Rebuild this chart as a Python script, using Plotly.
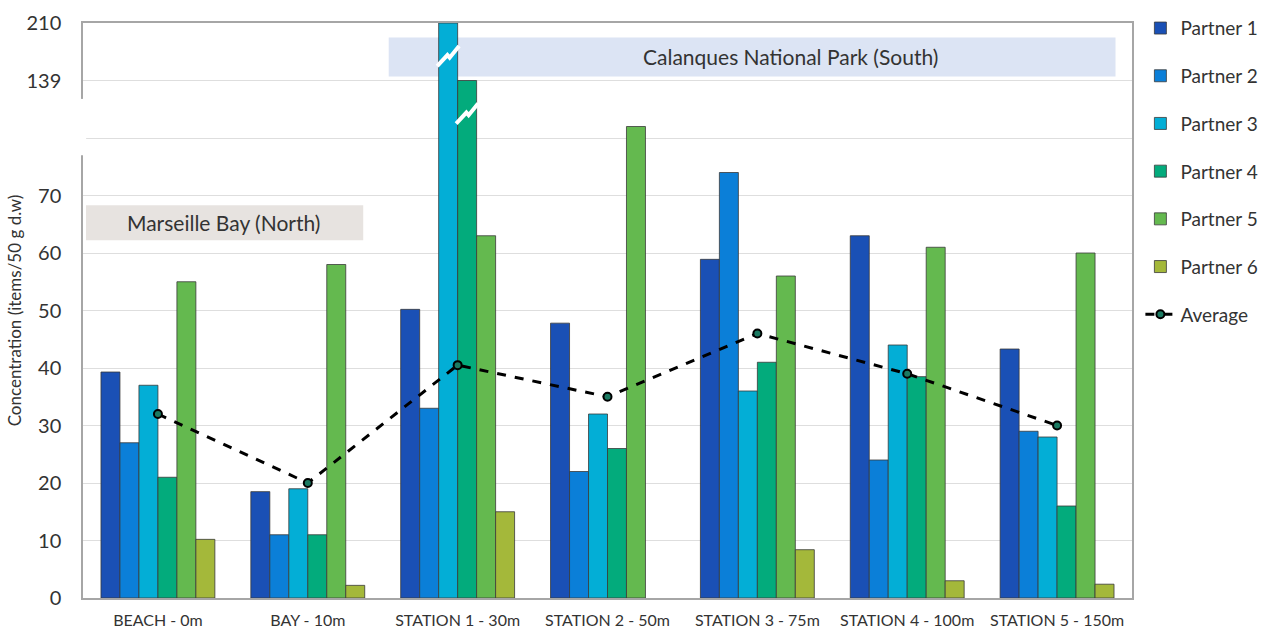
import numpy as np
import plotly.graph_objects as go

# ---- data (real values; the two tallest bars sit above an axis break) ----
stations = ["BEACH - 0m", "BAY - 10m", "STATION 1 - 30m", "STATION 2 - 50m",
            "STATION 3 - 75m", "STATION 4 - 100m", "STATION 5 - 150m"]
partner1 = [39.3, 18.5, 50.2, 47.8, 58.9, 63.0, 43.3]
partner2 = [27.0, 11.0, 33.0, 22.0, 74.0, 24.0, 29.0]
partner3 = [37.0, 19.0, 210.0, 32.0, 36.0, 44.0, 28.0]
partner4 = [21.0, 11.0, 139.0, 26.0, 41.0, 38.5, 16.0]
partner5 = [55.0, 58.0, 63.0, 82.0, 56.0, 61.0, 60.0]
partner6 = [10.2, 2.2, 15.0, None, 8.4, 3.0, 2.4]
average = [32.0, 20.0, 40.5, 35.0, 46.0, 39.0, 30.0]

series_names = ["Partner 1", "Partner 2", "Partner 3", "Partner 4", "Partner 5", "Partner 6"]
series_vals = [partner1, partner2, partner3, partner4, partner5, partner6]
colors = ["#1a50b5", "#0b7fd8", "#03aed6", "#03ab7c", "#64b94f", "#a4b83a"]

# broken axis: real value -> drawn position
real_breaks = [0, 85, 139, 210]
draw_breaks = [0, 85, 90, 100]
def to_axis(v):
    return [None if x is None else float(np.interp(x, real_breaks, draw_breaks)) for x in v]

ytick_vals = [0, 10, 20, 30, 40, 50, 60, 70, 80, 90, 100]
ytick_text = ["0", "10", "20", "30", "40", "50", "60", "70", "", "139", "210"]

FONT = "Lato"
bargap = 0.24
xs = list(range(len(stations)))

fig = go.Figure()
for name, vals, col in zip(series_names, series_vals, colors):
    fig.add_trace(go.Bar(
        x=xs, y=to_axis(vals), name=name, legendgroup=name,
        marker=dict(color=col, line=dict(color="#3a3a3a", width=0.8)),
        customdata=vals, hovertemplate="%{customdata}<extra>" + name + "</extra>",
    ))

fig.add_trace(go.Scatter(
    x=xs, y=to_axis(average), name="Average", legendgroup="Average",
    mode="lines+markers",
    line=dict(color="black", width=3, dash="dash"),
    marker=dict(size=8, color="#1b7a62", line=dict(color="black", width=2)),
))

# ---- break marks on bars exceeding the break ----
w = (1 - bargap) / len(series_names)
shapes = []
for k, vals in enumerate(series_vals):
    for i, v in enumerate(vals):
        if v is not None and v > real_breaks[1]:
            c = i + (k - (len(series_names) - 1) / 2) * w
            L, R = c - w / 2 - 0.01, c + w / 2 + 0.01
            top = to_axis([v])[0]
            b = top - 7.5
            h = 3.5
            mid = c
            shapes.append(dict(
                type="path", xref="x", yref="y", layer="above",
                path=f"M {L},{b} L {mid-0.005},{b+h*0.55} L {mid+0.01},{b+h*0.42} L {R},{b+h}",
                line=dict(color="white", width=4),
            ))

# region boxes
shapes.append(dict(type="rect", xref="x", yref="y", layer="between",
                   x0=-0.48, x1=1.37, y0=62.2, y1=68.3,
                   fillcolor="#e7e3e0", line=dict(width=0)))
shapes.append(dict(type="rect", xref="x", yref="y", layer="between",
                   x0=1.54, x1=6.39, y0=90.7, y1=97.5,
                   fillcolor="#dce4f4", line=dict(width=0)))
# gap in the left axis line (axis break)
shapes.append(dict(type="rect", xref="paper", yref="y", layer="above",
                   x0=-0.004, x1=0.003, y0=77.0, y1=86.8,
                   fillcolor="white", line=dict(width=0)))

annotations = [
    dict(x=0.44, y=65.25, xref="x", yref="y", text="Marseille Bay (North)",
         showarrow=False, font=dict(family=FONT, size=21, color="#333333")),
    dict(x=4.22, y=94.1, xref="x", yref="y", text="Calanques National Park (South)",
         showarrow=False, font=dict(family=FONT, size=21, color="#333333")),
]

fig.update_layout(
    width=1266, height=629,
    margin=dict(l=83, r=134, t=23, b=31, autoexpand=False),
    paper_bgcolor="white", plot_bgcolor="white",
    barmode="group", bargap=bargap, bargroupgap=0,
    font=dict(family=FONT, color="#333333"),
    shapes=shapes, annotations=annotations,
    legend=dict(x=1.008, y=1.024, xanchor="left", yanchor="top",
                font=dict(family=FONT, size=19, color="#333333"),
                tracegroupgap=20, itemwidth=30, bgcolor="rgba(0,0,0,0)",
                maxheight=600),
    showlegend=True,
)
fig.update_xaxes(
    range=[-0.5, len(stations) - 0.5], tickvals=xs, ticktext=stations,
    tickfont=dict(family=FONT, size=16, color="#333333"),
    showline=True, linecolor="#a6a6a6", linewidth=1.5, mirror=True,
    showgrid=False, zeroline=False, ticks="", ticklabelstandoff=7,
    automargin=False,
)
fig.update_yaxes(
    range=[0, 100], tickvals=ytick_vals, ticktext=ytick_text,
    tickfont=dict(family=FONT, size=20, color="#333333"),
    showline=True, linecolor="#a6a6a6", linewidth=1.5, mirror=True,
    showgrid=True, gridcolor="#dedede", gridwidth=1, zeroline=False,
    ticks="", ticklabelstandoff=16, automargin=False,
    title=dict(text="Concentration (items/50 g d.w)",
               font=dict(family=FONT, size=17, color="#333333"), standoff=0),
)

fig.write_html("out.html", config={"displayModeBar": False},
               post_script="document.body.style.margin='0';document.body.style.overflow='hidden';")
